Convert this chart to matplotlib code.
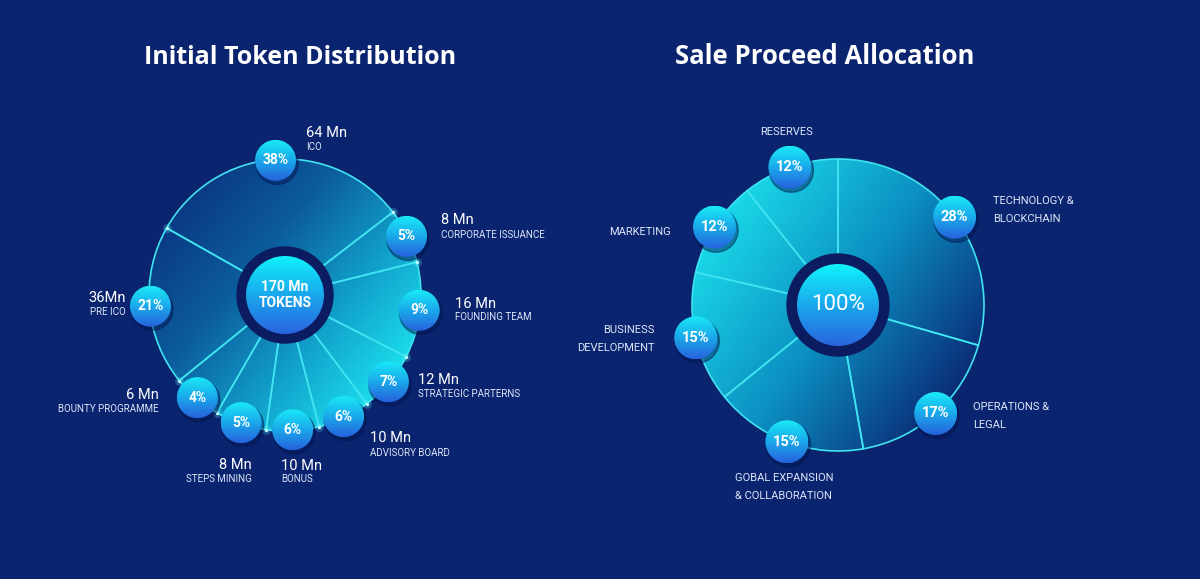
import matplotlib.pyplot as plt
import numpy as np
from matplotlib.colors import LinearSegmentedColormap
from matplotlib.patches import Circle

bg = "#0a2470"
edge_cyan = "#3fe3f0"
label_col = "#dde6f7"

plt.rcParams.update({
    "font.family": ["Roboto", "DejaVu Sans"],
    "savefig.facecolor": bg,
})

# Initial Token Distribution, clockwise from ICO
token_pct = [38, 5, 9, 7, 6, 6, 5, 4, 21]
token_amount = ["64 Mn", "8 Mn", "16 Mn", "12 Mn", "10 Mn", "10 Mn", "8 Mn", "6 Mn", "36Mn"]
token_names = ["ICO", "CORPORATE ISSUANCE", "FOUNDING TEAM", "STRATEGIC PARTERNS",
               "ADVISORY BOARD", "BONUS", "STEPS MINING", "BOUNTY PROGRAMME", "PRE ICO"]
# the infographic is not to scale, slice widths (deg) as drawn in the picture
token_arc = [113, 23.5, 41, 26, 22.5, 22.5, 22, 21, 68.5]
token_total = "170 Mn\nTOKENS"

# Sale Proceed Allocation, clockwise from the top
sale_pct = [28, 17, 15, 15, 12, 12]
sale_names = ["TECHNOLOGY &\nBLOCKCHAIN", "OPERATIONS &\nLEGAL", "GOBAL EXPANSION\n& COLLABORATION",
              "BUSINESS\nDEVELOPMENT", "MARKETING", "RESERVES"]
sale_arc = [106, 64, 61, 52, 38.5, 38.5]
sale_total = "100%"

W, H = 1200, 579

# label anchors (x, y, ha) -- layout only
token_label_pos = [(306, 439, "left"), (441, 351.5, "left"), (455, 268.5, "left"),
                   (418, 192, "left"), (370, 133.5, "left"), (281, 106.5, "left"),
                   (252, 107, "right"), (159, 177, "right"), (126, 274, "right")]
sale_label_pos = [(993, 369, "left"), (973, 163, "left"), (735, 92, "left"),
                  (655, 240, "right"), (671, 347, "right"), (787, 447, "center")]


def grad_image(ax, clip, cx, cy, r, colors, angle, z=2):
    """linear gradient over the square around (cx, cy), clipped to a patch"""
    cmap = LinearSegmentedColormap.from_list("g", colors)
    g = np.linspace(-1, 1, 200)
    X, Y = np.meshgrid(g, g)
    a = np.deg2rad(angle)
    t = (X * np.cos(a) + Y * np.sin(a) + 1) / 2
    im = ax.imshow(t, cmap=cmap, vmin=0, vmax=1, origin="lower",
                   extent=(cx - r, cx + r, cy - r, cy + r), zorder=z,
                   interpolation="bilinear")
    im.set_clip_path(clip)


def bubble(ax, x, y, r, text, fs):
    ax.add_patch(Circle((x + 1.5, y - 3), r * 1.03, color="#03154e", alpha=0.45, zorder=5))
    c = Circle((x, y), r, facecolor="none", edgecolor="none", zorder=6)
    ax.add_patch(c)
    grad_image(ax, c, x, y, r, ["#1aeaf8", "#1aa8ea", "#2762dd"], -90, z=6)
    ax.text(x, y, text, ha="center", va="center", color="white",
            fontsize=fs, fontweight="bold", zorder=7)


def center_disk(ax, cx, cy, r_out, r_in, text, fs, weight):
    ax.add_patch(Circle((cx, cy), r_out, color="#0c1c60", zorder=8))
    inner = Circle((cx, cy), r_in, facecolor="none", edgecolor="none", zorder=9)
    ax.add_patch(inner)
    grad_image(ax, inner, cx, cy, r_in, ["#10f2fb", "#1aa8ec", "#2a64e0"], -90, z=9)
    ax.text(cx, cy, text, ha="center", va="center", color="white", fontsize=fs,
            fontweight=weight, linespacing=1.15, zorder=10)


fig = plt.figure(figsize=(12, 5.79), dpi=100, facecolor=bg)
ax = fig.add_axes([0, 0, 1, 1])
ax.set_facecolor(bg)

# ---- left: token distribution
lc, lr = (285, 284), 136
wedges, _ = ax.pie(token_arc, startangle=150.5, counterclock=False, radius=lr, center=lc,
                   wedgeprops=dict(facecolor="none", edgecolor=edge_cyan, linewidth=1.2, zorder=3))
for w in wedges:
    grad_image(ax, w, lc[0], lc[1], lr, ["#0a3a84", "#0c5c9c", "#119cc8", "#1bdcec"], -40, z=2)
    px = lc[0] + lr * np.cos(np.deg2rad(w.theta1))
    py = lc[1] + lr * np.sin(np.deg2rad(w.theta1))
    ax.scatter(px, py, s=40, color="#5ff4ff", alpha=0.25, lw=0, zorder=4)
    ax.scatter(px, py, s=6, color="#b8fcff", lw=0, zorder=4)

for w, pct, amt, name, (tx, ty, ha) in zip(wedges, token_pct, token_amount, token_names, token_label_pos):
    mid = np.deg2rad((w.theta1 + w.theta2) / 2)
    br = lr - 1
    bubble(ax, lc[0] + br * np.cos(mid), lc[1] + br * np.sin(mid), 20.5, f"{pct}%", 10)
    ax.text(tx, ty + 7, amt, ha=ha, va="center", color="white", fontsize=10.5)
    ax.text(tx, ty - 7, name, ha=ha, va="center", color=label_col, fontsize=7)

center_disk(ax, lc[0], lc[1], 48, 39, token_total, 10, "bold")

# ---- right: sale proceeds
rc, rr = (838, 274), 146
wedges, _ = ax.pie(sale_arc, startangle=90, counterclock=False, radius=rr, center=rc,
                   wedgeprops=dict(facecolor="none", edgecolor=edge_cyan, linewidth=1.2, zorder=3))
for w in wedges:
    grad_image(ax, w, rc[0], rc[1], rr, ["#1ad8e8", "#0c90c2", "#0a2e78"], -35, z=2)

for w, pct, name, (tx, ty, ha) in zip(wedges, sale_pct, sale_names, sale_label_pos):
    mid = np.deg2rad((w.theta1 + w.theta2) / 2)
    bubble(ax, rc[0] + rr * np.cos(mid), rc[1] + rr * np.sin(mid), 21.5, f"{pct}%", 10.5)
    ax.text(tx, ty, name, ha=ha, va="center", multialignment=ha, color=label_col,
            fontsize=8, linespacing=1.9)

center_disk(ax, rc[0], rc[1], 51, 41, sale_total, 16, "normal")

# titles
ax.text(300.5, 522, "Initial Token Distribution", ha="center", va="center",
        color="white", fontsize=18, fontweight="bold", family=["Open Sans", "DejaVu Sans"])
ax.text(824.5, 522, "Sale Proceed Allocation", ha="center", va="center",
        color="white", fontsize=18.5, fontweight="bold", family=["Open Sans", "DejaVu Sans"])

ax.set_xlim(0, W)
ax.set_ylim(0, H)
ax.set_aspect("equal")
ax.axis("off")

fig.savefig("out.png", dpi=100, facecolor=bg)
plt.close(fig)
